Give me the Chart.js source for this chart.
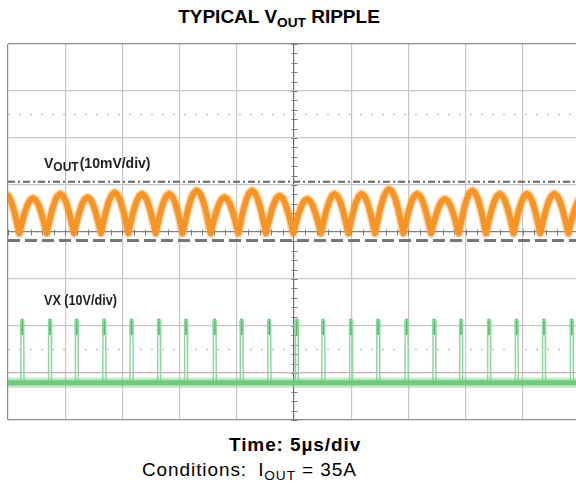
<!DOCTYPE html>
<html>
<head>
<meta charset="utf-8">
<script src="https://cdn.jsdelivr.net/npm/chart.js@4"></script>
<style>
  html, body { margin:0; padding:0; background:#fff; overflow:hidden; }
  body { width:576px; height:489px; position:relative; font-family:"Liberation Sans", Arial, sans-serif; color:#000; }
  #wrap { position:absolute; left:0; top:0; width:584px; height:430px; }
  .title { position:absolute; top:6px; left:0; width:558px; text-align:center; font-weight:bold; font-size:19px; }
  .time { position:absolute; top:434px; left:229px; font-weight:bold; font-size:19px; letter-spacing:0.9px; }
  .cond { position:absolute; top:459px; left:142px; font-size:19px; letter-spacing:0.9px; }
  .gap { display:inline-block; width:5px; }
  sub { font-size:0.72em; vertical-align:-0.3em; line-height:0; }
</style>
</head>
<body>
<div class="title">TYPICAL V<sub>OUT</sub> RIPPLE</div>
<div id="wrap"><canvas id="scope"></canvas></div>
<div class="time">Time: 5µs/div</div>
<div class="cond">Conditions:<span class="gap"></span> I<sub>OUT</sub> = 35A</div>

<script>
// time axis in µs (5µs/div), vertical axis in divisions (0..8)

// VOUT ripple: valley times (µs) and peak level of each arc (div)
const vValleys = [-1.40, 0.99, 3.38, 5.77, 8.13, 10.52, 12.91, 15.27, 17.72, 20.13, 22.55,
  24.94, 27.36, 29.75, 32.08, 34.56, 36.98, 39.40, 41.78, 44.20, 46.53, 48.98, 51.40];
const vPeaks = [4.81, 4.72, 4.81, 4.74, 4.84, 4.81, 4.81, 4.88, 4.74, 4.88, 4.77,
  4.70, 4.81, 4.81, 4.91, 4.81, 4.70, 4.88, 4.81, 4.81, 4.81, 4.75];
const vValleyLevel = [3.97];
const arcPhase = [0, 0.05, 0.12, 0.2, 0.3, 0.4, 0.5, 0.6, 0.7, 0.8, 0.88, 0.95, 1];
const arcLevel = [0, 0.16, 0.37, 0.59, 0.81, 0.95, 1, 0.95, 0.81, 0.59, 0.37, 0.16, 0];

// VX switch node: spike times (µs), spike top and baseline (div)
const vxSpikes = [1.11, 3.52, 5.86, 8.28, 10.66, 13.05, 15.41, 17.92, 20.28, 22.70, 25.09,
  27.42, 29.83, 32.21, 34.70, 37.12, 39.45, 41.90, 44.32, 46.70, 49.13];
const vxTop = [2.12];
const vxBase = [0.79];

// scope cursors / markers (div)
const cursorHigh = [5.07];
const cursorLow = [3.82];
const dotRows = [6.5, 1.5];

const SPIKE_W = 0.26;

function fmtArcs() {
  const pts = [];
  for (let i = 0; i < vPeaks.length; i++) {
    const t0 = vValleys[i], t1 = vValleys[i + 1];
    const h = vPeaks[i] - vValleyLevel[0];
    arcPhase.forEach((p, k) => {
      if (i > 0 && k === 0) return;
      pts.push({ x: t0 + (t1 - t0) * p, y: vValleyLevel[0] + h * arcLevel[k] });
    });
  }
  return pts;
}

function spikeEdges() {
  const pts = [];
  vxSpikes.forEach(t => {
    pts.push({ x: t, y: vxBase[0] }, { x: t + 0.03, y: vxTop[0] },
      { x: t + SPIKE_W, y: vxTop[0] }, { x: t + SPIKE_W + 0.03, y: vxBase[0] }, { x: t, y: null });
  });
  return pts;
}

function spikeCaps() {
  const pts = [];
  vxSpikes.forEach(t => {
    pts.push({ x: t + SPIKE_W / 2, y: vxTop[0] }, { x: t + SPIKE_W / 2, y: vxTop[0] - 0.28 }, { x: t, y: null });
  });
  return pts;
}

const hline = (y) => [{ x: 0, y }, { x: 50, y }];
const ripple = fmtArcs();

const scopeMarks = {
  id: 'scopeMarks',
  beforeDatasetsDraw(chart) {
    const { ctx, scales: { x, y } } = chart;
    ctx.save();
    ctx.strokeStyle = '#7a7a7a';
    ctx.lineWidth = 1;
    const cx = Math.round(x.getPixelForValue(25)) + 0.5;
    for (let i = 0; i <= 40; i++) {
      const py = Math.round(y.getPixelForValue(i * 0.2)) + 0.5;
      ctx.beginPath(); ctx.moveTo(cx - 3, py); ctx.lineTo(cx + 3, py); ctx.stroke();
    }
    const cy = Math.round(y.getPixelForValue(4)) + 0.5;
    for (let i = 0; i <= 50; i++) {
      const px = Math.round(x.getPixelForValue(i)) + 0.5;
      ctx.beginPath(); ctx.moveTo(px, cy - 3); ctx.lineTo(px, cy + 3); ctx.stroke();
    }
    ctx.restore();
  },
  afterDatasetsDraw(chart) {
    const { ctx, scales: { x, y } } = chart;
    const big = 'bold 14px "Liberation Sans Narrow", "Liberation Sans", sans-serif';
    const small = 'bold 12px "Liberation Sans Narrow", "Liberation Sans", sans-serif';
    ctx.save();
    ctx.fillStyle = '#1e1e1e';
    ctx.textBaseline = 'alphabetic';
    let px = x.getPixelForValue(3.15), py = y.getPixelForValue(5.36);
    ctx.font = big; ctx.fillText('V', px, py); px += ctx.measureText('V').width;
    ctx.font = small; ctx.fillText('OUT', px, py + 3); px += ctx.measureText('OUT').width + 1;
    ctx.font = big; ctx.fillText('(10mV/div)', px, py);
    // VX label is a bit more condensed in the original
    ctx.translate(x.getPixelForValue(3.15), y.getPixelForValue(2.45));
    ctx.scale(0.9, 1);
    ctx.fillText('VX (10V/div)', 0, 0);
    ctx.restore();
  }
};

function gridColorY(c) {
  const v = c.tick && c.tick.value;
  if (v === 4) return '#808080';
  if (v === 1) return '#d8aab0';
  if (v === 8 || v === 0) return '#8c8c8c';
  return '#c6c6c6';
}
function gridColorX(c) {
  const v = c.tick && c.tick.value;
  if (v === 25) return '#6e6e6e';
  if (v === 0) return '#8c8c8c';
  return '#c6c6c6';
}

new Chart(document.getElementById('scope'), {
  type: 'line',
  data: {
    datasets: [
      { data: hline(dotRows[0]), borderColor: '#c4c4c4', borderWidth: 1.5, borderDash: [2, 9] },
      { data: hline(dotRows[1]), borderColor: '#c4c4c4', borderWidth: 1.5, borderDash: [2, 9] },
      { data: hline(cursorHigh[0]), borderColor: '#666', borderWidth: 2, borderDash: [7, 3, 2, 3] },
      { data: hline(cursorLow[0]), borderColor: '#767676', borderWidth: 3, borderDash: [12, 5] },
      { data: ripple, borderColor: 'rgba(247,155,50,0.4)', borderWidth: 9 },
      { data: ripple, borderColor: '#f5921f', borderWidth: 6 },
      { data: hline(vxBase[0]), borderColor: 'rgba(125,205,140,0.5)', borderWidth: 10 },
      { data: hline(vxBase[0]), borderColor: '#63c473', borderWidth: 5 },
      { data: spikeEdges(), borderColor: '#8fd6a1', borderWidth: 1.5, spanGaps: false },
      { data: spikeCaps(), borderColor: '#4db866', borderWidth: 3.5, spanGaps: false }
    ]
  },
  options: {
    responsive: true,
    maintainAspectRatio: false,
    animation: false,
    events: [],
    layout: { padding: { left: 8, top: 44, right: 4, bottom: 10 } },
    elements: {
      point: { radius: 0 },
      line: { tension: 0, borderJoinStyle: 'round', borderCapStyle: 'butt', fill: false }
    },
    datasets: { line: { clip: 0 } },
    plugins: { legend: { display: false }, tooltip: { enabled: false }, title: { display: false } },
    scales: {
      x: {
        type: 'linear', min: 0, max: 50,
        ticks: { display: false, stepSize: 5 },
        grid: { color: gridColorX, lineWidth: 1.2, drawTicks: false },
        border: { display: false }
      },
      y: {
        type: 'linear', min: 0, max: 8,
        ticks: { display: false, stepSize: 1 },
        grid: { color: gridColorY, lineWidth: 1.2, drawTicks: false },
        border: { display: false }
      }
    }
  },
  plugins: [scopeMarks]
});
</script>
</body>
</html>
